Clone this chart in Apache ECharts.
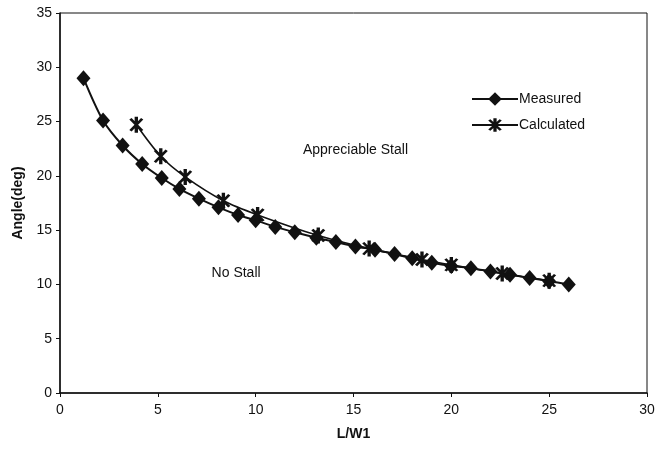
<!DOCTYPE html>
<html>
<head>
<meta charset="utf-8">
<script src="https://cdn.jsdelivr.net/npm/echarts@6/dist/echarts.min.js"></script>
<style>html,body{margin:0;padding:0;background:#fff}#c{width:658px;height:461px}</style>
</head>
<body>
<div id="c"></div>
<script>
var measuredX = [1.2, 2.2, 3.2, 4.2, 5.2, 6.1, 7.1, 8.1, 9.1, 10.0, 11.0, 12.0, 13.1, 14.1, 15.1, 16.1, 17.1, 18.0, 19.0, 20.0, 21.0, 22.0, 23.0, 24.0, 25.0, 26.0];
var measuredY = [29.0, 25.1, 22.8, 21.1, 19.8, 18.8, 17.9, 17.1, 16.4, 15.9, 15.3, 14.8, 14.3, 13.9, 13.5, 13.2, 12.8, 12.4, 12.0, 11.7, 11.5, 11.2, 10.9, 10.6, 10.3, 10.0];
var calcX = [3.9, 5.15, 6.4, 8.35, 10.1, 13.2, 15.8, 18.5, 20.0, 22.6, 25.0];
var calcY = [24.7, 21.8, 19.9, 17.7, 16.4, 14.5, 13.3, 12.3, 11.8, 11.0, 10.35];
var xTicks = [0, 5, 10, 15, 20, 25, 30];
var yTicks = [0, 5, 10, 15, 20, 25, 30, 35];

function pairs(xs, ys) { return xs.map(function (x, i) { return [x, ys[i]]; }); }

var asterisk = 'path://M1.8,-10L1.8,10L-1.8,10L-1.8,-10Z' +
  'M7.5,6.6L5.1,8.4L-7.5,-6.6L-5.1,-8.4Z' +
  'M5.1,-8.4L7.5,-6.6L-5.1,8.4L-7.5,6.6Z';

var font = 'Liberation Sans, Arial, sans-serif';
var chart = echarts.init(document.getElementById('c'));
chart.setOption({
  animation: false,
  backgroundColor: '#fff',
  grid: { left: 60, right: 11, top: 13, bottom: 68, show: true, borderColor: '#111', borderWidth: 1, backgroundColor: 'transparent' },
  legend: {
    orient: 'vertical', left: 466, top: 87, itemWidth: 46, itemHeight: 17, itemGap: 12,
    textStyle: { fontFamily: font, fontSize: 14, color: '#111', padding: [0, 0, 0, -4] },
    data: ['Measured', 'Calculated']
  },
  xAxis: {
    type: 'value', min: xTicks[0], max: xTicks[xTicks.length - 1], interval: 5,
    name: 'L/W1', nameLocation: 'middle', nameGap: 34,
    nameTextStyle: { fontFamily: font, fontSize: 14, fontWeight: 'bold', color: '#111' },
    axisLine: { show: true, lineStyle: { color: '#111', width: 1.5 } },
    axisTick: { show: true, length: 4, lineStyle: { color: '#111' } },
    axisLabel: { fontFamily: font, fontSize: 14, color: '#111', margin: 10 },
    splitLine: { show: false }
  },
  yAxis: {
    type: 'value', min: yTicks[0], max: yTicks[yTicks.length - 1], interval: 5,
    name: 'Angle(deg)', nameLocation: 'middle', nameGap: 34, nameRotate: 90,
    nameTextStyle: { fontFamily: font, fontSize: 14, fontWeight: 'bold', color: '#111' },
    axisLine: { show: true, lineStyle: { color: '#111', width: 1.5 } },
    axisTick: { show: true, length: 4, lineStyle: { color: '#111' } },
    axisLabel: { fontFamily: font, fontSize: 14, color: '#111', margin: 8 },
    splitLine: { show: false }
  },
  series: [
    {
      name: 'Measured', type: 'line', smooth: 0.3,
      data: pairs(measuredX, measuredY),
      symbol: 'diamond', symbolSize: [14, 16],
      lineStyle: { color: '#111', width: 2 },
      itemStyle: { color: '#111' },
      markPoint: {
        symbol: 'circle', symbolSize: 0,
        label: { show: true, position: 'inside', fontFamily: font, fontSize: 14, color: '#111' },
        data: [
          { coord: [15.1, 22.4], value: 'Appreciable Stall', label: { formatter: 'Appreciable Stall' } },
          { coord: [9.0, 11.0], value: 'No Stall', label: { formatter: 'No Stall' } }
        ]
      },
      z: 3
    },
    {
      name: 'Calculated', type: 'line', smooth: 0.3,
      data: pairs(calcX, calcY),
      symbol: asterisk, symbolSize: [14, 16],
      lineStyle: { color: '#111', width: 1.6 },
      itemStyle: { color: '#111' },
      z: 4
    }
  ]
});
</script>
</body>
</html>
